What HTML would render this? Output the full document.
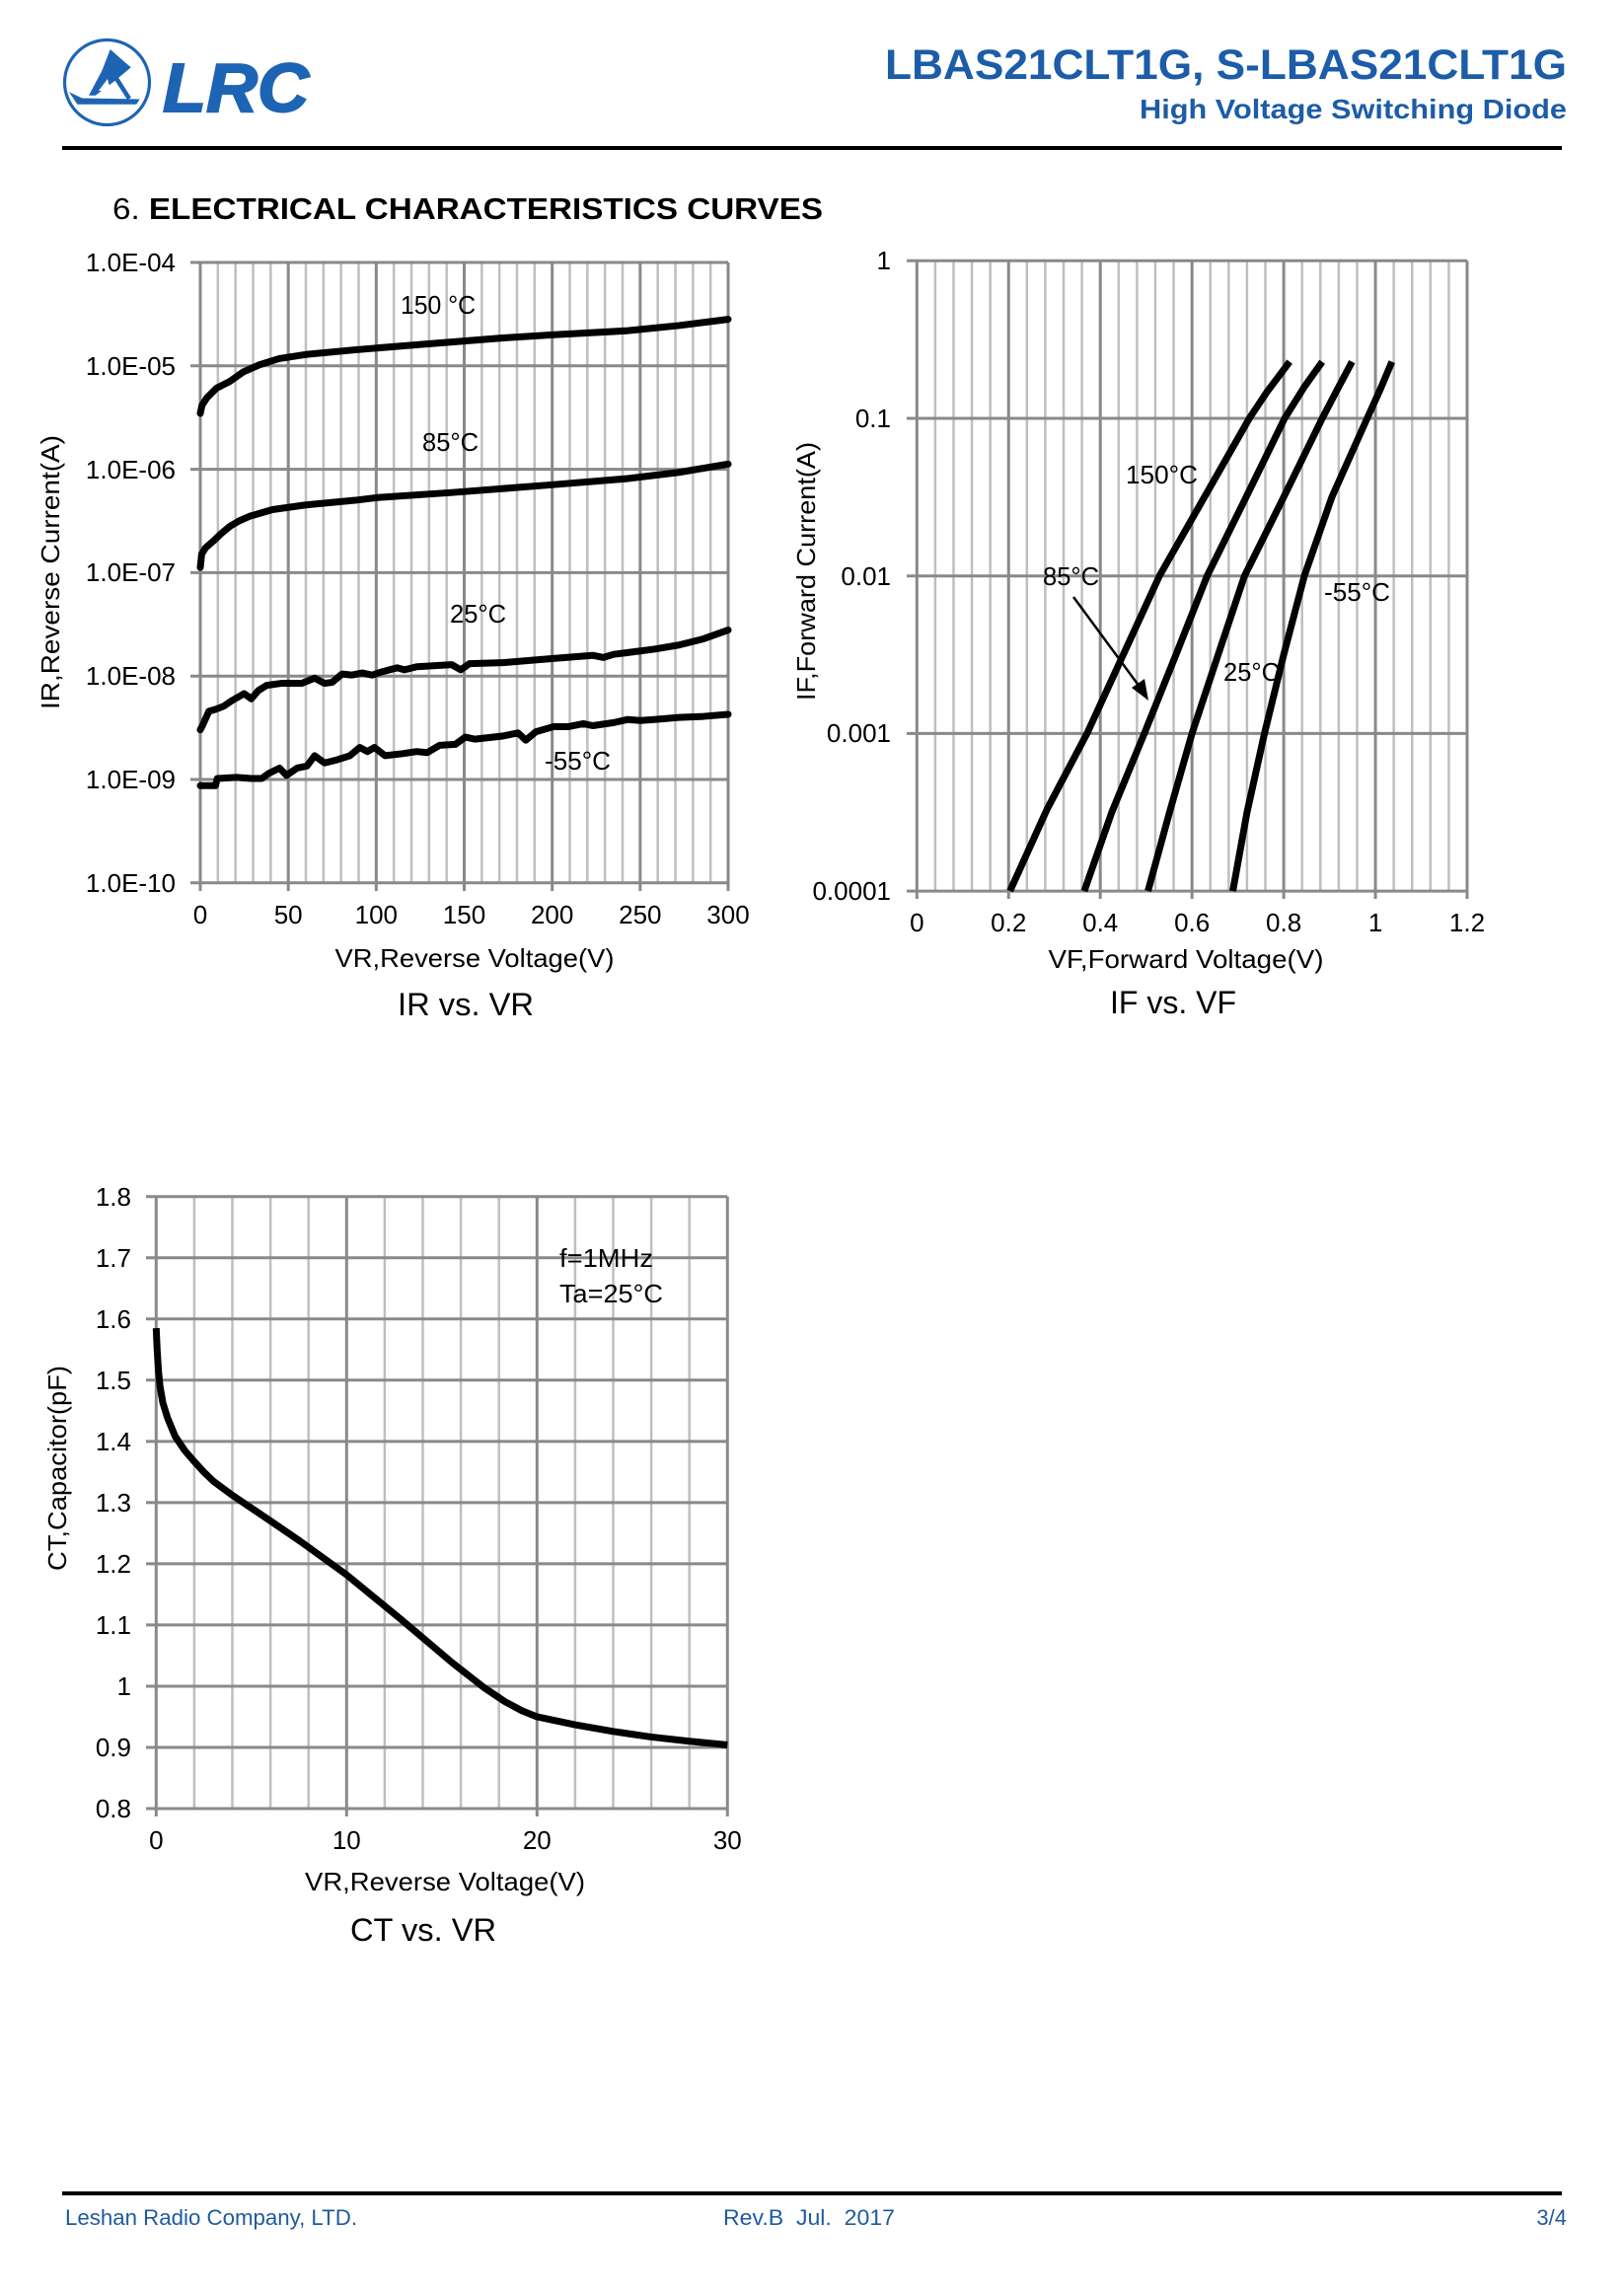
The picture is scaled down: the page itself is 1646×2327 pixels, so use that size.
<!DOCTYPE html>
<html>
<head>
<meta charset="utf-8">
<style>
html,body{margin:0;padding:0;background:#fff;}
svg{display:block;}
text{font-family:"Liberation Sans",Arial,sans-serif;}
</style>
</head>
<body>
<svg width="1646" height="2327" viewBox="0 0 1646 2327" xmlns="http://www.w3.org/2000/svg">
<rect x="0" y="0" width="1646" height="2327" fill="#fff"/>

<!-- ===== HEADER ===== -->
<circle cx="108.5" cy="83.5" r="43" fill="none" stroke="#1e64b4" stroke-width="3.2"/>
<polygon points="111.7,50 132.7,68.3 116.7,81.7 96.7,96.7 90,96.7 103.3,71.7" fill="#1e64b4"/>
<polygon points="70,93.3 83.3,99.5 141.7,100.5 138.3,105.7 78.3,105.7" fill="#1e64b4"/>
<line x1="117" y1="78" x2="131" y2="100" stroke="#1e64b4" stroke-width="4.5"/>
<polygon points="100,92 109,80 112,92" fill="#fff"/>
<text x="165" y="113" font-size="70" font-weight="bold" font-style="italic" fill="#1e64b4" stroke="#1e64b4" stroke-width="2" textLength="148" lengthAdjust="spacingAndGlyphs">LRC</text>

<text x="1588" y="80" font-size="43" font-weight="bold" fill="#1c5ca8" text-anchor="end" textLength="691" lengthAdjust="spacingAndGlyphs">LBAS21CLT1G, S-LBAS21CLT1G</text>
<text x="1588" y="120" font-size="28" font-weight="bold" fill="#1c5ca8" text-anchor="end" textLength="433" lengthAdjust="spacingAndGlyphs">High Voltage Switching Diode</text>
<rect x="63" y="148" width="1520" height="4" fill="#000"/>

<text x="114" y="222" font-size="31" font-weight="bold" fill="#000" textLength="720" lengthAdjust="spacingAndGlyphs"><tspan font-weight="normal">6.</tspan> ELECTRICAL CHARACTERISTICS CURVES</text>

<!-- ===== CHART 1: IR vs VR ===== -->
<g fill="none">
<path stroke="#bfbfbf" stroke-width="2.5" d="M220.83 266V894.8M238.67 266V894.8M256.5 266V894.8M274.33 266V894.8M310 266V894.8M327.83 266V894.8M345.67 266V894.8M363.5 266V894.8M399.17 266V894.8M417 266V894.8M434.83 266V894.8M452.67 266V894.8M488.33 266V894.8M506.17 266V894.8M524 266V894.8M541.83 266V894.8M577.5 266V894.8M595.33 266V894.8M613.17 266V894.8M631 266V894.8M666.67 266V894.8M684.5 266V894.8M702.33 266V894.8M720.17 266V894.8"/>
<path stroke="#898989" stroke-width="3" d="M203 266V903M292.17 266V903M381.33 266V903M470.5 266V903M559.67 266V903M648.83 266V903M738 266V903M193 266H738M193 370.8H738M193 475.6H738M193 580.4H738M193 685.2H738M193 790H738M193 894.8H738"/>
</g>
<g font-size="26" fill="#000" text-anchor="end">
<text x="178" y="275">1.0E-04</text>
<text x="178" y="380">1.0E-05</text>
<text x="178" y="485">1.0E-06</text>
<text x="178" y="589">1.0E-07</text>
<text x="178" y="694">1.0E-08</text>
<text x="178" y="799">1.0E-09</text>
<text x="178" y="904">1.0E-10</text>
</g>
<g font-size="26" fill="#000" text-anchor="middle">
<text x="203" y="936">0</text>
<text x="292.17" y="936">50</text>
<text x="381.33" y="936">100</text>
<text x="470.5" y="936">150</text>
<text x="559.67" y="936">200</text>
<text x="648.83" y="936">250</text>
<text x="738" y="936">300</text>
<text x="481" y="980" textLength="283" lengthAdjust="spacingAndGlyphs">VR,Reverse Voltage(V)</text>
<text x="472" y="1029" font-size="32" textLength="138" lengthAdjust="spacingAndGlyphs">IR vs. VR</text>
</g>
<text transform="translate(60,580) rotate(-90)" font-size="26" text-anchor="middle" textLength="278" lengthAdjust="spacingAndGlyphs">IR,Reverse Current(A)</text>
<g transform="matrix(1.78333,0,0,-104.8,203,-153.2)" fill="none" stroke="#000" stroke-width="7" stroke-linejoin="round" stroke-linecap="round">
<path vector-effect="non-scaling-stroke" d="M0,-5.46 L1,-5.38 3.7,-5.31 9.3,-5.215 16.8,-5.15 24.3,-5.06 33.6,-4.99 44.9,-4.93 60,-4.89 88,-4.845 120,-4.80 172,-4.73 200,-4.70 243,-4.66 272,-4.61 300,-4.55"/>
<path vector-effect="non-scaling-stroke" d="M0,-6.95 L0.8,-6.82 3,-6.76 7.7,-6.69 12,-6.62 17,-6.55 22,-6.50 28,-6.455 41,-6.39 60,-6.345 88,-6.30 100,-6.275 143,-6.225 200,-6.15 243,-6.09 272,-6.03 300,-5.95"/>
<path vector-effect="non-scaling-stroke" d="M0,-8.52 L1.5,-8.47 4.9,-8.34 9,-8.32 13.4,-8.29 17.7,-8.24 24.9,-8.17 29,-8.22 33,-8.14 37.7,-8.09 46,-8.07 57.7,-8.07 65,-8.02 70.6,-8.07 75,-8.06 80.6,-7.98 86,-7.99 92,-7.97 97.7,-7.99 103,-7.96 112,-7.92 116,-7.94 123,-7.91 143,-7.89 148,-7.94 153,-7.88 172,-7.87 200.6,-7.83 223,-7.80 229,-7.82 235,-7.79 258,-7.74 272,-7.70 286,-7.64 300,-7.555"/>
<path vector-effect="non-scaling-stroke" d="M0,-9.06 L8.6,-9.06 9.7,-8.99 20.6,-8.98 29,-8.99 35,-8.99 39,-8.94 45,-8.89 49,-8.96 55,-8.89 60.6,-8.87 65,-8.77 70.6,-8.84 77.7,-8.81 85,-8.77 90.6,-8.69 95,-8.73 99,-8.69 105,-8.77 115,-8.75 123,-8.73 129,-8.74 136,-8.67 145,-8.66 150.6,-8.59 156,-8.61 172,-8.58 180.6,-8.55 185,-8.62 190.6,-8.54 200.6,-8.49 209,-8.49 217.7,-8.46 223,-8.48 235,-8.45 243,-8.42 250,-8.43 258,-8.42 272,-8.40 286,-8.39 300,-8.37"/>
</g>
<g font-size="26" fill="#000">
<text x="406" y="318" textLength="76" lengthAdjust="spacingAndGlyphs">150 °C</text>
<text x="428" y="457" textLength="57" lengthAdjust="spacingAndGlyphs">85°C</text>
<text x="456" y="631" textLength="57" lengthAdjust="spacingAndGlyphs">25°C</text>
<text x="552" y="780" textLength="67" lengthAdjust="spacingAndGlyphs">-55°C</text>
</g>

<!-- ===== CHART 2: IF vs VF ===== -->
<g fill="none">
<path stroke="#bfbfbf" stroke-width="2.5" d="M947.89 264.3V903.1M966.48 264.3V903.1M985.07 264.3V903.1M1003.66 264.3V903.1M1040.84 264.3V903.1M1059.43 264.3V903.1M1078.02 264.3V903.1M1096.61 264.3V903.1M1133.79 264.3V903.1M1152.38 264.3V903.1M1170.97 264.3V903.1M1189.56 264.3V903.1M1226.74 264.3V903.1M1245.33 264.3V903.1M1263.92 264.3V903.1M1282.51 264.3V903.1M1319.69 264.3V903.1M1338.28 264.3V903.1M1356.87 264.3V903.1M1375.46 264.3V903.1M1412.64 264.3V903.1M1431.23 264.3V903.1M1449.82 264.3V903.1M1468.41 264.3V903.1"/>
<path stroke="#898989" stroke-width="3" d="M929.3 264.3V911M1022.25 264.3V911M1115.2 264.3V911M1208.15 264.3V911M1301.1 264.3V911M1394.05 264.3V911M1487 264.3V911M919 264.3H1487M919 424H1487M919 583.7H1487M919 743.4H1487M919 903.1H1487"/>
</g>
<g font-size="26" fill="#000" text-anchor="end">
<text x="903" y="273">1</text>
<text x="903" y="433">0.1</text>
<text x="903" y="593">0.01</text>
<text x="903" y="752">0.001</text>
<text x="903" y="912">0.0001</text>
</g>
<g font-size="26" fill="#000" text-anchor="middle">
<text x="929.3" y="944">0</text>
<text x="1022.25" y="944">0.2</text>
<text x="1115.2" y="944">0.4</text>
<text x="1208.15" y="944">0.6</text>
<text x="1301.1" y="944">0.8</text>
<text x="1394.05" y="944">1</text>
<text x="1487" y="944">1.2</text>
<text x="1202" y="981" textLength="279" lengthAdjust="spacingAndGlyphs">VF,Forward Voltage(V)</text>
<text x="1189" y="1027" font-size="32" textLength="128" lengthAdjust="spacingAndGlyphs">IF vs. VF</text>
</g>
<text transform="translate(826,579) rotate(-90)" font-size="26" text-anchor="middle" textLength="262" lengthAdjust="spacingAndGlyphs">IF,Forward Current(A)</text>
<g transform="matrix(464.75,0,0,-159.7,929.3,264.3)" fill="none" stroke="#000" stroke-width="7" stroke-linejoin="round">
<path vector-effect="non-scaling-stroke" d="M0.203,-4 L0.284,-3.48 0.371,-3 0.45,-2.5 0.529,-2 0.627,-1.5 0.725,-1 0.764,-0.83 0.813,-0.641"/>
<path vector-effect="non-scaling-stroke" d="M0.365,-4 L0.425,-3.5 0.496,-3 0.565,-2.5 0.633,-2 0.718,-1.5 0.802,-1 0.845,-0.8 0.884,-0.641"/>
<path vector-effect="non-scaling-stroke" d="M0.504,-4 L0.551,-3.5 0.6,-3 0.657,-2.5 0.7145,-2 0.80,-1.5 0.884,-1 0.92,-0.8 0.949,-0.641"/>
<path vector-effect="non-scaling-stroke" d="M0.689,-4 L0.72,-3.5 0.758,-3 0.80,-2.5 0.845,-2 0.905,-1.5 0.982,-1 1.01,-0.82 1.036,-0.641"/>
</g>
<g font-size="26" fill="#000">
<text x="1141" y="490" textLength="73" lengthAdjust="spacingAndGlyphs">150°C</text>
<text x="1057" y="593" textLength="57" lengthAdjust="spacingAndGlyphs">85°C</text>
<text x="1342" y="609" textLength="67" lengthAdjust="spacingAndGlyphs">-55°C</text>
<text x="1240" y="690" textLength="57" lengthAdjust="spacingAndGlyphs">25°C</text>
</g>
<line x1="1088" y1="605" x2="1155" y2="696" stroke="#000" stroke-width="2.5"/>
<polygon points="1164,710 1147,697 1160,688" fill="#000"/>

<!-- ===== CHART 3: CT vs VR ===== -->
<g fill="none">
<path stroke="#bfbfbf" stroke-width="2.5" d="M196.9 1212.7V1833M235.5 1212.7V1833M274.1 1212.7V1833M312.7 1212.7V1833M389.9 1212.7V1833M428.5 1212.7V1833M467.1 1212.7V1833M505.7 1212.7V1833M582.9 1212.7V1833M621.5 1212.7V1833M660.1 1212.7V1833M698.7 1212.7V1833"/>
<path stroke="#898989" stroke-width="3" d="M158.3 1212.7V1841M351.3 1212.7V1841M544.3 1212.7V1841M737.3 1212.7V1841M148 1212.7H737.3M148 1274.73H737.3M148 1336.76H737.3M148 1398.79H737.3M148 1460.82H737.3M148 1522.85H737.3M148 1584.88H737.3M148 1646.91H737.3M148 1708.94H737.3M148 1770.97H737.3M148 1833H737.3"/>
</g>
<g font-size="26" fill="#000" text-anchor="end">
<text x="133" y="1222">1.8</text>
<text x="133" y="1284">1.7</text>
<text x="133" y="1346">1.6</text>
<text x="133" y="1408">1.5</text>
<text x="133" y="1470">1.4</text>
<text x="133" y="1532">1.3</text>
<text x="133" y="1594">1.2</text>
<text x="133" y="1656">1.1</text>
<text x="133" y="1718">1</text>
<text x="133" y="1780">0.9</text>
<text x="133" y="1842">0.8</text>
</g>
<g font-size="26" fill="#000" text-anchor="middle">
<text x="158.3" y="1874">0</text>
<text x="351.3" y="1874">10</text>
<text x="544.3" y="1874">20</text>
<text x="737.3" y="1874">30</text>
<text x="451" y="1916" textLength="284" lengthAdjust="spacingAndGlyphs">VR,Reverse Voltage(V)</text>
<text x="429" y="1967" font-size="32" textLength="148" lengthAdjust="spacingAndGlyphs">CT vs. VR</text>
</g>
<text transform="translate(67,1488) rotate(-90)" font-size="26" text-anchor="middle" textLength="208" lengthAdjust="spacingAndGlyphs">CT,Capacitor(pF)</text>
<g transform="matrix(19.3,0,0,-620.3,158.3,2329.24)" fill="none" stroke="#000" stroke-width="7" stroke-linejoin="round">
<path vector-effect="non-scaling-stroke" d="M0,1.585 L0.05,1.55 0.12,1.515 0.2,1.49 0.35,1.463 0.6,1.438 1.0,1.408 1.5,1.385 2.0,1.367 2.5,1.350 3.0,1.335 4,1.312 5,1.291 6,1.27 7.6,1.236 10,1.182 12.9,1.108 15.56,1.038 17.2,0.998 18.3,0.975 19.2,0.960 20,0.950 22,0.937 24,0.926 26,0.917 28,0.91 30,0.904"/>
</g>
<g font-size="26" fill="#000">
<text x="567" y="1284" textLength="95" lengthAdjust="spacingAndGlyphs">f=1MHz</text>
<text x="567" y="1320" textLength="105" lengthAdjust="spacingAndGlyphs">Ta=25°C</text>
</g>

<!-- ===== FOOTER ===== -->
<rect x="63" y="2221" width="1520" height="4" fill="#000"/>
<g font-size="22" fill="#1f5a9e">
<text x="66" y="2255" textLength="296" lengthAdjust="spacingAndGlyphs">Leshan Radio Company, LTD.</text>
<text x="733" y="2255" textLength="174" lengthAdjust="spacingAndGlyphs" xml:space="preserve">Rev.B  Jul.  2017</text>
<text x="1588" y="2255" text-anchor="end">3/4</text>
</g>
</svg>
</body>
</html>
